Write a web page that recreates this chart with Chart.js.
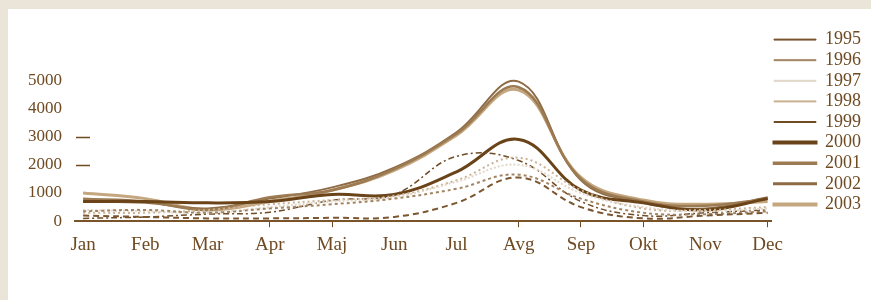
<!DOCTYPE html>
<html>
<head>
<meta charset="utf-8">
<script src="https://cdn.jsdelivr.net/npm/chart.js@4.4.1/dist/chart.umd.min.js"></script>
<style>
  html, body { margin: 0; padding: 0; width: 871px; height: 300px; overflow: hidden; }
  body { background: #ebe4d8; position: relative; }
  #paper { position: absolute; left: 8px; top: 9px; right: 0; bottom: 0; background: #ffffff; }
  #chart { position: absolute; left: 0; top: 0; }
</style>
</head>
<body>
<div id="paper"></div>
<canvas id="chart" width="871" height="300"></canvas>
<script>
const months = ['Jan', 'Feb', 'Mar', 'Apr', 'Maj', 'Jun', 'Jul', 'Avg', 'Sep', 'Okt', 'Nov', 'Dec'];
const yTicks = [0, 1000, 2000, 3000, 4000, 5000];

const y1995 = [200, 150, 100, 100, 120, 150, 650, 1550, 500, 100, 200, 300];
const y1996 = [350, 400, 300, 450, 600, 800, 1150, 1650, 800, 300, 250, 350];
const y1997 = [400, 350, 300, 500, 700, 850, 1400, 2000, 1000, 500, 350, 450];
const y1998 = [300, 300, 400, 600, 750, 900, 1450, 2250, 1100, 450, 400, 500];
const y1999 = [100, 150, 250, 320, 740, 950, 2300, 2150, 700, 200, 300, 400];
const y2000 = [700, 700, 650, 700, 950, 950, 1750, 2900, 1100, 650, 400, 800];
const y2001 = [800, 700, 400, 850, 1100, 1850, 3100, 4750, 1500, 700, 550, 800];
const y2002 = [700, 650, 450, 800, 1200, 1900, 3150, 4950, 1450, 650, 450, 850];
const y2003 = [1000, 800, 400, 700, 1100, 1800, 3050, 4650, 1550, 750, 600, 700];

const brown = '#6f4a22';

function series(label, data, color, width, dash) {
  return {
    label: label,
    data: data,
    borderColor: color,
    backgroundColor: color,
    borderWidth: width,
    borderDash: dash,
    pointRadius: 0,
    tension: 0.4,
    fill: false
  };
}

// short marks inside the plot at 2000 and 3000, like the original artwork
const yMarks = {
  id: 'yMarks',
  afterDraw(chart) {
    const ctx = chart.ctx;
    const ys = chart.scales.y;
    const left = chart.chartArea.left;
    ctx.save();
    ctx.strokeStyle = brown;
    ctx.lineWidth = 1.5;
    [2000, 3000].forEach(v => {
      const py = Math.round(ys.getPixelForValue(v)) + 0.5;
      ctx.beginPath();
      ctx.moveTo(left + 1, py);
      ctx.lineTo(left + 15, py);
      ctx.stroke();
    });
    ctx.restore();
  }
};

const shownMonthTicks = [3, 4, 7, 8, 9, 11];

const ctx = document.getElementById('chart');
const myChart = new Chart(ctx, {
  type: 'line',
  data: {
    labels: months.map((m, i) => i),
    datasets: [
      series('1995', y1995, '#7b5630', 2, [6, 4]),
      series('1996', y1996, '#a38462', 2, [3, 3]),
      series('1997', y1997, '#e2d7c8', 2, [2, 2]),
      series('1998', y1998, '#c9b193', 2, [2, 3]),
      series('1999', y1999, '#6f4b26', 1.5, [6, 3, 2, 3]),
      series('2000', y2000, '#6a4318', 3, []),
      series('2001', y2001, '#9c7a52', 2.5, []),
      series('2002', y2002, '#8e6b45', 2, []),
      series('2003', y2003, '#c4a77f', 3, [])
    ]
  },
  options: {
    responsive: false,
    animation: false,
    layout: {
      padding: { left: 0, right: 0, top: 28, bottom: 38 }
    },
    scales: {
      x: {
        type: 'linear',
        min: -0.13,
        max: 11.06,
        ticks: {
          stepSize: 1,
          includeBounds: false,
          autoSkip: false,
          maxRotation: 0,
          padding: 6,
          color: brown,
          font: { family: 'Liberation Serif', size: 19 },
          callback: (v) => months[v]
        },
        grid: {
          drawOnChartArea: false,
          drawTicks: true,
          tickLength: 6,
          color: (c) => shownMonthTicks.includes(c.tick && c.tick.value) ? brown : 'rgba(0,0,0,0)'
        },
        border: { display: true, color: '#7a5328', width: 2 }
      },
      y: {
        min: 0,
        max: 6850,
        afterFit: (scale) => { scale.width = 75; },
        afterBuildTicks: (scale) => { scale.ticks = yTicks.map(v => ({ value: v })); },
        ticks: {
          padding: 13,
          color: brown,
          font: { family: 'Liberation Serif', size: 17 },
          callback: (v) => String(v)
        },
        grid: { display: false, drawTicks: false, tickLength: 0 },
        border: { display: false }
      }
    },
    plugins: {
      tooltip: { enabled: false },
      legend: {
        display: true,
        position: 'right',
        align: 'start',
        labels: {
          boxWidth: 42,
          boxHeight: 1,
          padding: 2.6,
          color: brown,
          font: { family: 'Liberation Serif', size: 18 },
          generateLabels: (chart) => {
            const items = Chart.defaults.plugins.legend.labels.generateLabels(chart);
            items.forEach(it => {
              const ds = chart.data.datasets[it.datasetIndex];
              it.lineDash = [];
              it.lineWidth = ds.borderDash.length ? 1 : ds.borderWidth;
              it.fillStyle = ds.borderColor;
              it.strokeStyle = ds.borderColor;
            });
            return items;
          }
        }
      }
    }
  },
  plugins: [yMarks]
});
</script>
</body>
</html>
